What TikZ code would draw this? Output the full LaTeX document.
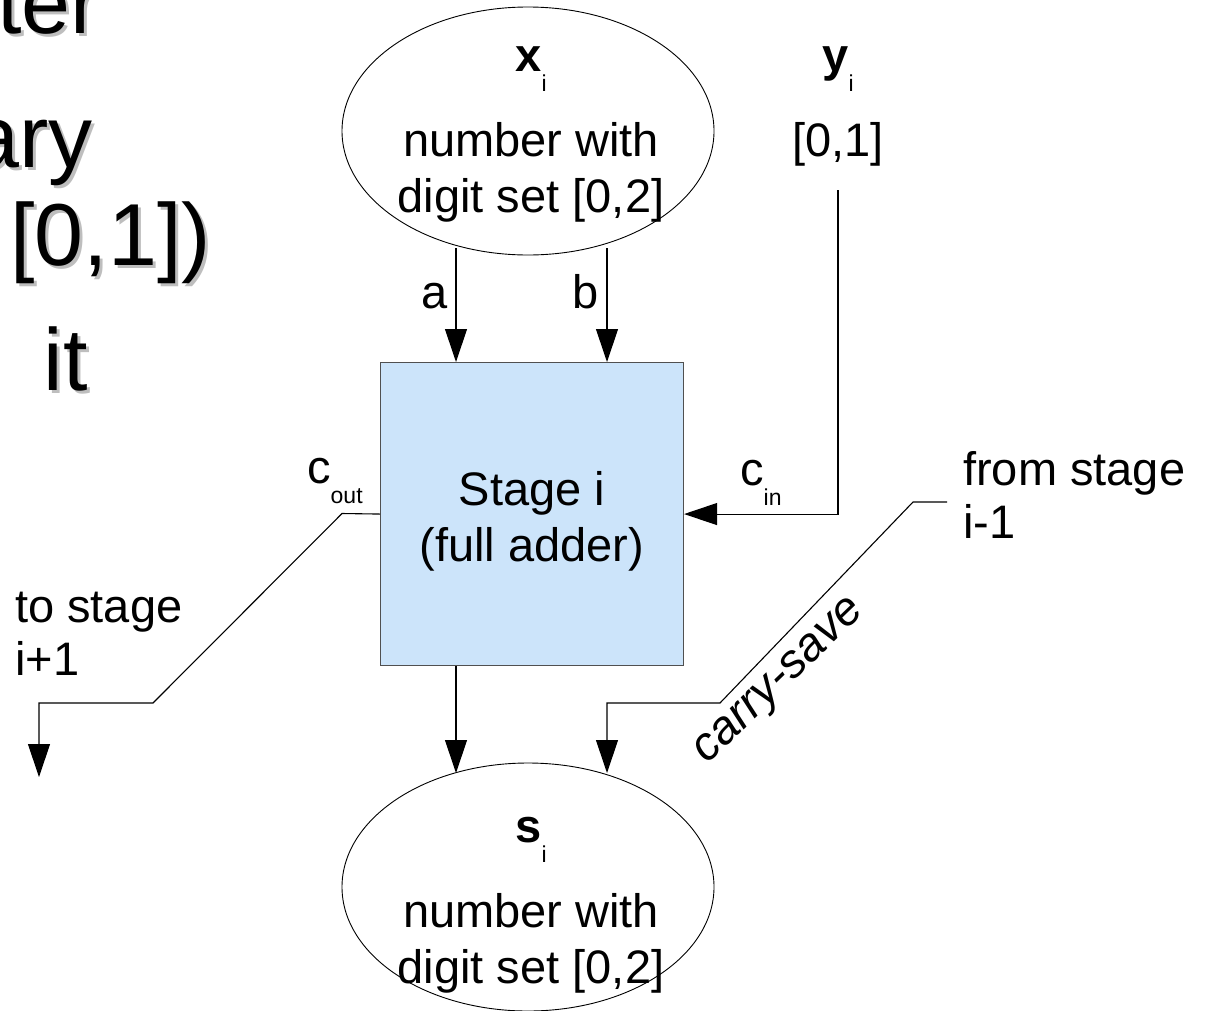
\documentclass[tikz,border=0pt]{standalone}
\usepackage{fontspec}
\setmainfont{Liberation Sans}
\usetikzlibrary{arrows.meta,shapes.geometric,calc}
\definecolor{stagefill}{RGB}{204,228,250}
\definecolor{stageline}{RGB}{80,80,80}
\definecolor{shadowgray}{RGB}{190,190,190}
% lowered index, as in x_i or c_out
\newcommand\dnidx[1]{\raisebox{-20pt}{\fontsize{23}{23}\selectfont #1}}
% large heading fragment with a soft drop shadow
\newcommand\bigshadow[3]{%
  \node[bigtxt, text=shadowgray, anchor=base east] at ($(#1)+(3,3)$) {#3};
  \node[bigtxt, anchor=base east] (#2) at (#1) {#3};}
\begin{document}
\begin{tikzpicture}[x=1pt,y=-1pt,
  body/.style={font=\fontsize{47}{56}\selectfont, inner sep=0pt},
  bigtxt/.style={font=\fontsize{88}{98}\selectfont, inner sep=0pt},
  wire/.style={draw=black, line width=1.1pt},
  arr/.style={wire, -{Triangle[length=33pt,width=22pt]}},
  numbox/.style={ellipse, draw=black, line width=0.9pt, minimum width=372pt, minimum height=248pt, inner sep=0pt},
  stagebox/.style={draw=stageline, line width=1.1pt, fill=stagefill, minimum width=303pt, minimum height=303pt, inner sep=0pt}]
\useasboundingbox (0,0) rectangle (1212,1010);

% heading text cut off at the left edge
\coordinate (h1) at (100,33);
\coordinate (h2) at (93,167);
\coordinate (h3) at (211,265);
\coordinate (h4) at (88,390);
\bigshadow{h1}{t1}{ster}
\bigshadow{h2}{t2}{ary}
\bigshadow{h3}{t3}{[0,1])}
\bigshadow{h4}{t4}{it}

% operands, stage and result
\node[numbox] (xin) at (528,131) {};
\node[body, anchor=base] (xlab) at (531,71) {\textbf{x}\dnidx{i}};
\node[body, anchor=base] (xl2) at (531,156) {number with};
\node[body, anchor=base] (xl3) at (531,212) {digit set [0,2]};

\node[body, anchor=base] (ylab) at (838,71) {\textbf{y}\dnidx{i}};
\node[body, anchor=base] (yl2) at (838,156) {[0,1]};

\node[stagebox, anchor=north west] (box) at (380,362) {};
\node[body, anchor=base] (st1) at (532,505) {Stage i};
\node[body, anchor=base] (st2) at (532,561) {(full adder)};

\node[numbox] (sout) at (528,887) {};
\node[body, anchor=base] (slab) at (531,842) {\textbf{s}\dnidx{i}};
\node[body, anchor=base] (sl2) at (531,927) {number with};
\node[body, anchor=base] (sl3) at (531,983) {digit set [0,2]};

% connector end points and bends
\coordinate (a0) at (456,248);
\coordinate (b0) at (607,248);
\coordinate (y0) at (838,190);
\coordinate (co1) at (342,513.5);
\coordinate (co2) at (153,703);
\coordinate (co3) at (39,703);
\coordinate (co4) at (39,777);
\coordinate (sa) at (456,773);
\coordinate (cs0) at (947,502);
\coordinate (cs1) at (913,502);
\coordinate (cs2) at (720,703);
\coordinate (cs3) at (607,703);
\coordinate (cs4) at (607,773);

\draw[arr] (a0) -- (a0 |- box.north);
\draw[arr] (b0) -- (b0 |- box.north);
\draw[arr] (y0) |- (box.east);
\draw[arr] (box.west) -- (co1) -- (co2) -- (co3) -- (co4);
\draw[arr] (sa |- box.south) -- (sa);
\draw[arr] (cs0) -- (cs1) -- (cs2) -- (cs3) -- (cs4);

% labels
\node[body, anchor=base] (la) at (435,308) {a};
\node[body, anchor=base] (lb) at (586,308) {b};
\node[body, anchor=base west] (lcin) at (740,485) {c\dnidx{in}};
\node[body, anchor=base west] (lcout) at (307,483) {c\dnidx{out}};
\node[body, anchor=base west] (lto1) at (15,622) {to stage};
\node[body, anchor=base west] (lto2) at (15,675) {i+1};
\node[body, anchor=base west] (lfr1) at (963,485) {from stage};
\node[body, anchor=base west] (lfr2) at (963,538) {i-1};
\node[body, font=\fontsize{47}{56}\selectfont\itshape, rotate=44] (lcs) at (781,683) {carry-save};
\end{tikzpicture}
\end{document}
